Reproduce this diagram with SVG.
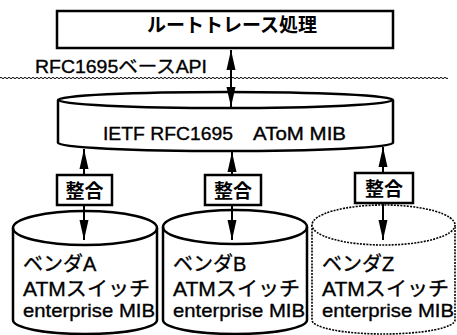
<svg xmlns="http://www.w3.org/2000/svg" width="457" height="335" viewBox="0 0 457 335">
<style>
.ln{fill:none;stroke:#000;stroke-width:2.5}
.box{fill:#fff;stroke:#000;stroke-width:2.5}
.dot{fill:#fff;stroke:#000;stroke-width:1.6;stroke-dasharray:2 1.2}
.arr{fill:none;stroke:#000;stroke-width:2}
.t{font-family:"Liberation Sans","Noto Sans CJK JP",sans-serif;fill:#000;stroke:#000;stroke-width:0.35}
.jp{font-family:"Noto Sans CJK JP","Liberation Sans",sans-serif;font-weight:bold;fill:#000}
</style>
<defs>
<marker id="ah" viewBox="0 0 20 10" markerUnits="userSpaceOnUse" markerWidth="20" markerHeight="10" refX="20" refY="5" orient="auto-start-reverse">
<path d="M0,0.5 L20,5 L0,9.5 Z" fill="#000"/>
</marker>
<pattern id="wave" width="4" height="4" patternUnits="userSpaceOnUse">
<path d="M0,2 Q1,0.6 2,2 T4,2" fill="none" stroke="#000" stroke-width="1"/>
</pattern>
</defs>
<g id="api-line">
<rect x="0" y="77" width="448" height="4" fill="url(#wave)"/>
<text class="t" x="35" y="73" font-size="18" textLength="172" lengthAdjust="spacingAndGlyphs">RFC1695ベースAPI</text>
</g>
<g id="route-trace">
<rect class="box" x="57" y="11" width="336" height="37"/>
<text class="jp" x="232" y="32" font-size="19" text-anchor="middle">ルートトレース処理</text>
</g>
<g id="atom-mib">
<path class="box" d="M58,100 L58,143 A167.5,8 0 0,0 393,143 L393,100"/>
<ellipse class="box" cx="225.5" cy="100" rx="167.5" ry="8"/>
<text class="t" x="103" y="140" font-size="18" textLength="130" lengthAdjust="spacingAndGlyphs">IETF RFC1695</text>
<text class="t" x="253" y="140" font-size="18" textLength="93" lengthAdjust="spacingAndGlyphs">AToM MIB</text>
</g>
<g id="vendor-a">
<path class="box" d="M13,228 L13,320 A72,14 0 0,0 157,320 L157,228"/>
<ellipse class="ln" cx="85" cy="228" rx="72" ry="17"/>
<text class="t" x="23" y="271" font-size="20">ベンダA</text>
<text class="t" x="23" y="296" font-size="20" textLength="127" lengthAdjust="spacingAndGlyphs">ATMスイッチ</text>
<text class="t" x="23" y="317" font-size="19" textLength="132" lengthAdjust="spacingAndGlyphs">enterprise MIB</text>
</g>
<g id="vendor-b">
<path class="box" d="M163,227 L163,320 A72,14 0 0,0 307,320 L307,227"/>
<ellipse class="ln" cx="235" cy="227" rx="72" ry="17"/>
<text class="t" x="173" y="271" font-size="20">ベンダB</text>
<text class="t" x="173" y="296" font-size="20" textLength="127" lengthAdjust="spacingAndGlyphs">ATMスイッチ</text>
<text class="t" x="173" y="317" font-size="19" textLength="132" lengthAdjust="spacingAndGlyphs">enterprise MIB</text>
</g>
<g id="vendor-z">
<path class="dot" d="M312,225 L312,320 A71.5,14 0 0,0 455,320 L455,225"/>
<ellipse class="dot" cx="383.5" cy="225" rx="71.5" ry="20"/>
<text class="t" x="322" y="271" font-size="20">ベンダZ</text>
<text class="t" x="322" y="296" font-size="20" textLength="127" lengthAdjust="spacingAndGlyphs">ATMスイッチ</text>
<text class="t" x="322" y="317" font-size="19" textLength="132" lengthAdjust="spacingAndGlyphs">enterprise MIB</text>
</g>
<g id="align-a">
<rect class="box" x="57" y="175" width="55" height="30"/>
<text class="jp" x="84.5" y="198" font-size="19" text-anchor="middle">整合</text>
</g>
<g id="align-b">
<rect class="box" x="205" y="175" width="56" height="30"/>
<text class="jp" x="233" y="198" font-size="19" text-anchor="middle">整合</text>
</g>
<g id="align-z">
<rect class="box" x="355" y="173" width="58" height="30"/>
<text class="jp" x="384" y="196" font-size="19" text-anchor="middle">整合</text>
</g>
<g id="connectors">
<line class="arr" x1="231" y1="50" x2="231" y2="107" marker-start="url(#ah)" marker-end="url(#ah)"/>
<line class="arr" x1="84" y1="175" x2="84" y2="149" marker-end="url(#ah)"/>
<line class="arr" x1="232" y1="175" x2="232" y2="152" marker-end="url(#ah)"/>
<line class="arr" x1="383" y1="173" x2="383" y2="147" marker-end="url(#ah)"/>
<line class="arr" x1="84" y1="205" x2="84" y2="240" marker-end="url(#ah)"/>
<line class="arr" x1="232" y1="205" x2="232" y2="240" marker-end="url(#ah)"/>
<line class="arr" x1="383" y1="203" x2="383" y2="240" marker-end="url(#ah)"/>
</g>
</svg>
